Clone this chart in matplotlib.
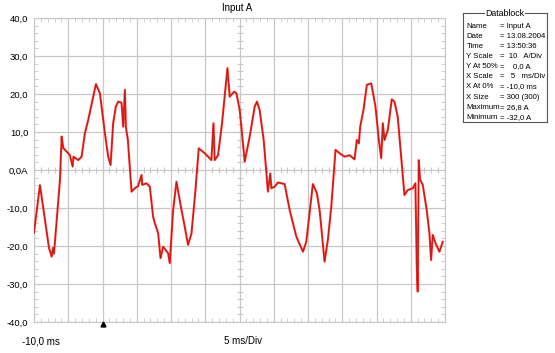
import numpy as np
import matplotlib
matplotlib.use("Agg")
import matplotlib.pyplot as plt
from matplotlib.ticker import MultipleLocator

plt.rcParams['font.family'] = ['Liberation Sans', 'DejaVu Sans']

# trace: time in ms, current in A
t_ms = [-10.0, -9.13, -7.81, -7.42, -7.23, -7.08, -6.21, -5.96, -5.73, -4.75,
        -4.36, -4.24, -4.02, -3.54, -3.05, -2.57, -2.08, -0.96, -0.38, 0.35,
        0.83, 1.18, 1.56, 1.95, 2.29, 2.78, 3.02, 3.27, 3.41, 3.70,
        4.24, 4.72, 5.20, 5.70, 5.79, 6.43, 6.91, 7.39, 7.64, 8.12,
        8.47, 8.85, 9.58, 9.82, 10.31, 10.80, 11.53, 11.91, 12.49, 12.99,
        13.57, 14.05, 14.93, 15.90, 16.20, 16.38, 16.87, 17.45, 18.24, 18.57,
        19.20, 19.55, 20.03, 20.76, 21.49, 22.22, 22.55, 22.94, 23.53, 24.15,
        24.50, 24.65, 25.13, 25.61, 26.59, 27.32, 28.29, 29.26, 29.75, 30.71,
        31.30, 31.69, 32.42, 32.90, 33.40, 34.02, 34.61, 35.34, 36.06, 36.79,
        37.13, 37.42, 37.62, 38.10, 38.59, 39.23, 39.85, 40.34, 40.69, 40.92,
        41.17, 41.65, 42.23, 42.62, 43.10, 44.08, 44.56, 45.29, 45.68, 45.87,
        46.02, 46.17, 46.37, 46.75, 47.33, 47.73, 47.97, 48.21, 48.71, 49.19,
        49.67]
i_amp = [-16.5, -4.0, -20.5, -22.8, -20.5, -22.0, -2.6, 8.8, 5.8, 3.9,
         0.9, 3.5, 3.2, 2.6, 3.5, 9.7, 13.2, 22.6, 20.2, 9.7,
         3.5, 1.3, 12.4, 16.7, 18.0, 17.7, 11.4, 21.1, 11.4, 8.0,
         -5.7, -4.8, -4.2, -1.3, -3.9, -3.5, -4.4, -12.3, -14.0, -16.6,
         -23.2, -20.2, -21.9, -24.5, -10.5, -3.1, -10.5, -14.0, -19.7, -16.7,
         -5.3, 5.7, 4.4, 2.6, 12.3, 2.6, 3.9, 12.3, 26.8, 19.3,
         20.6, 20.2, 15.8, 2.2, 8.8, 16.7, 18.0, 15.8, 7.9, -5.7,
         -0.9, -4.8, -4.4, -3.3, -3.7, -10.5, -17.5, -21.5, -18.9, -3.7,
         -6.1, -10.5, -24.1, -18.4, -9.6, 5.3, 4.4, 3.5, 3.9, 2.8,
         7.9, 7.0, 11.4, 15.8, 22.4, 22.8, 16.7, 7.9, 3.1, 12.3,
         7.9, 10.5, 18.6, 18.0, 14.0, -6.6, -5.3, -4.8, -3.5, -24.6,
         -32.0, 2.6, -2.6, -3.9, -10.5, -16.7, -23.7, -17.1, -19.7, -21.5,
         -18.9]

y_ticks = [40, 30, 20, 10, 0, -10, -20, -30, -40]
y_labels = ['40,0', '30,0', '20,0', '10,0', '0,0A', '-10,0', '-20,0', '-30,0', '-40,0']

block_names = ['Name', 'Date', 'Time', 'Y Scale', 'Y At 50%', 'X Scale',
               'X At 0%', 'X Size', 'Maximum', 'Minimum']
block_values = ['= Input A', '= 13.08.2004', '= 13:50:36', '=  10   A/Div', '=    0,0 A',
                '=   5   ms/Div', '= -10,0 ms', '= 300 (300)', '= 26,8 A', '= -32,0 A']

fig = plt.figure(figsize=(5.55, 3.53), dpi=100)
ax = fig.add_axes([34 / 555, 1 - 322 / 353, 411 / 555, 304 / 353])

ax.set_xlim(-10, 50)
ax.set_ylim(-40, 40)

grid_c = '#c8c8c8'
ax.set_xticks(np.arange(-10, 51, 5))
ax.set_yticks(y_ticks)
ax.xaxis.set_minor_locator(MultipleLocator(1))
ax.yaxis.set_minor_locator(MultipleLocator(2))
ax.grid(True, which='major', color=grid_c, lw=0.9)
ax.tick_params(which='both', direction='in', color=grid_c, top=True, right=True)
ax.tick_params(which='major', length=0)
ax.tick_params(which='minor', length=3)
ax.set_xticklabels([])
ax.set_yticklabels(y_labels, fontsize=6.8)
ax.tick_params(axis='y', pad=4)
for s in ax.spines.values():
    s.set_color(grid_c)

# small ticks along the centre lines
xm = np.arange(-10, 51, 1)
ym = np.arange(-40, 41, 2)
ax.plot(xm, np.zeros_like(xm), ls='none', marker='|', ms=5, mew=0.8, color=grid_c, zorder=1)
ax.plot(np.full_like(ym, 20), ym, ls='none', marker='_', ms=5, mew=0.8, color=grid_c, zorder=1)

ax.plot(t_ms, i_amp, color='#ff2a22', lw=1.5, zorder=3)
ax.plot(t_ms, i_amp, color='#a01818', lw=0.45, zorder=4)

# trigger marker
ax.plot([0], [-40.6], marker='^', color='black', ms=3.5, clip_on=False, zorder=5)

fig.text(237 / 555, 1 - 8 / 353, 'Input A', fontsize=7, ha='center', va='center')
fig.text(22 / 555, 1 - 341 / 353, '-10,0 ms', fontsize=7, ha='left', va='center')
fig.text(224 / 555, 1 - 341 / 353, '5 ms/Div', fontsize=7, ha='left', va='center')

# datablock
bx = fig.add_axes([463 / 555, 1 - 122 / 353, 84 / 555, 109 / 353])
bx.set_xlim(0, 1)
bx.set_ylim(0, 1)
bx.set_xticks([])
bx.set_yticks([])
for s in bx.spines.values():
    s.set_color('#555555')
    s.set_linewidth(0.8)
bx.text(0.5, 1.0, 'Datablock', fontsize=6.3, ha='center', va='center',
        bbox=dict(facecolor='white', edgecolor='none', pad=0.5))
for k, (n, v) in enumerate(zip(block_names, block_values)):
    yy = 0.88 - k * 0.093
    bx.text(0.04, yy, n, fontsize=5.6, ha='left', va='center')
    bx.text(0.44, yy, v, fontsize=5.6, ha='left', va='center')

fig.savefig('out.png', dpi=100)
